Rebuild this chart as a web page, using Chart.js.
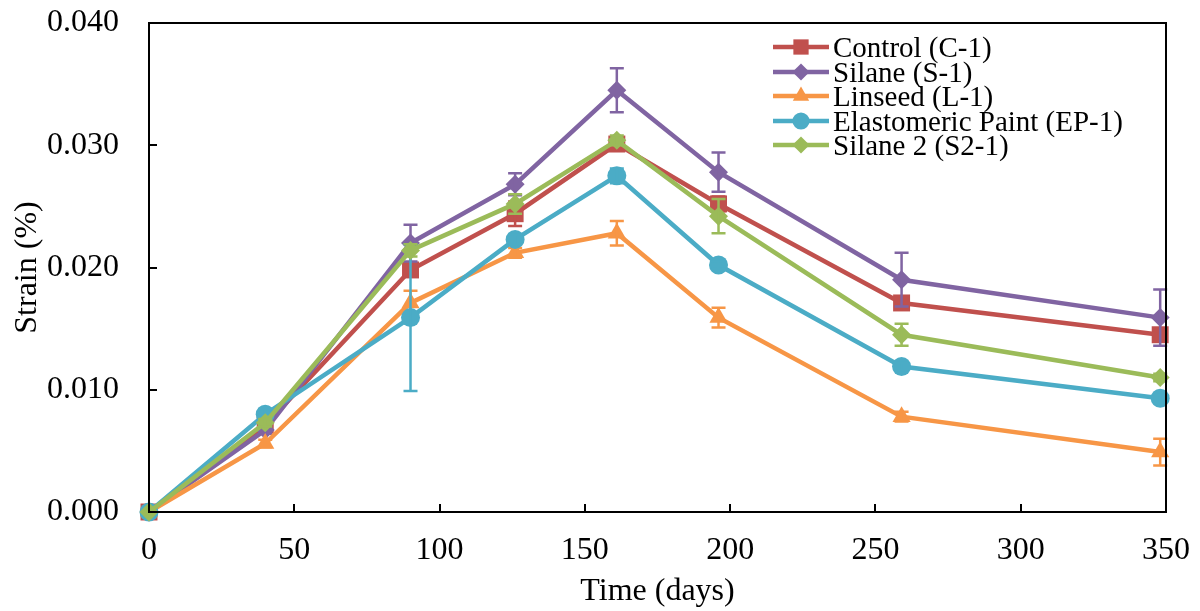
<!DOCTYPE html>
<html>
<head>
<meta charset="utf-8">
<script src="https://cdn.jsdelivr.net/npm/chart.js@4.4.1/dist/chart.umd.min.js"></script>
<style>
  html, body { margin: 0; padding: 0; background: #fff; }
  #wrap { position: relative; width: 1200px; height: 611px; }
  .row {
    position: absolute; left: 773px; height: 30px; line-height: 30px; white-space: nowrap;
    font-family: "Liberation Serif", "Times New Roman", serif; font-size: 29px; color: #000;
  }
  .row canvas { position: absolute; left: 0; top: 3px; }
  .row span { position: absolute; left: 60px; top: 0; }
</style>
</head>
<body>
<div id="wrap">
  <canvas id="chart" width="1200" height="611"></canvas>
</div>
<script>
// ── data ──
const days = [0, 40, 90, 126, 161, 196, 259, 348];
const xTicks = [0, 50, 100, 150, 200, 250, 300, 350];
const yTicks = [0, 0.01, 0.02, 0.03, 0.04];

const names = ['Control (C-1)', 'Silane (S-1)', 'Linseed (L-1)', 'Elastomeric Paint (EP-1)', 'Silane 2 (S2-1)'];

const control    = [0, 0.0071, 0.0198, 0.0244, 0.0301, 0.0252, 0.0171, 0.0145];
const controlErr = [0, 0.0003, 0.0005, 0.0010, 0.0004, 0.0006, 0.0003, 0.0005];

const silane    = [0, 0.0067, 0.0220, 0.0268, 0.0345, 0.0278, 0.0190, 0.0159];
const silaneErr = [0, 0.0003, 0.0015, 0.0009, 0.0018, 0.0016, 0.0022, 0.0023];

const linseed    = [0, 0.0056, 0.0171, 0.0212, 0.0228, 0.0159, 0.0078, 0.0049];
const linseedErr = [0, 0.0003, 0.0010, 0.0004, 0.0010, 0.0008, 0.0004, 0.0011];

const paint    = [0, 0.0080, 0.0159, 0.0223, 0.0275, 0.0202, 0.0119, 0.0093];
const paintErr = [0, 0.0004, 0.0060, 0.0004, 0.0006, 0.0003, 0.0003, 0.0003];

const silane2    = [0, 0.0073, 0.0214, 0.0252, 0.0304, 0.0242, 0.0145, 0.0110];
const silane2Err = [0, 0.0003, 0.0005, 0.0008, 0.0004, 0.0014, 0.0009, 0.0003];

const colors = ['#C0504D', '#8064A2', '#F79646', '#4BACC6', '#9BBB59'];
const styles = ['rect', 'rectRot', 'triangle', 'circle', 'rectRot'];
const radii  = [12, 9.5, 10.5, 9.5, 9.5];

const values = [control, silane, linseed, paint, silane2];
const errors = [controlErr, silaneErr, linseedErr, paintErr, silane2Err];

const FONT = 'Liberation Serif';
const FS = 32;

// ── plugins ──
const frameAndTicks = {
  id: 'frameAndTicks',
  afterDraw(chart) {
    const { ctx, chartArea: a, scales } = chart;
    ctx.save();
    ctx.strokeStyle = '#000';
    ctx.lineWidth = 2;
    ctx.strokeRect(a.left, a.top, a.right - a.left, a.bottom - a.top);
    ctx.beginPath();
    scales.x.ticks.forEach(t => {
      const px = Math.round(scales.x.getPixelForValue(t.value));
      ctx.moveTo(px, a.bottom);
      ctx.lineTo(px, a.bottom - 8);
    });
    scales.y.ticks.forEach(t => {
      const py = Math.round(scales.y.getPixelForValue(t.value));
      ctx.moveTo(a.left, py);
      ctx.lineTo(a.left + 8, py);
    });
    ctx.stroke();
    ctx.restore();
  }
};

// error bars drawn with each series, so later series sit on top (like Excel)
const errorBars = {
  id: 'errorBars',
  afterDatasetDraw(chart, args) {
    const i = args.index;
    const { ctx, scales: { x, y } } = chart;
    ctx.save();
    ctx.lineWidth = 2.5;
    ctx.strokeStyle = colors[i];
    values[i].forEach((v, j) => {
      const e = errors[i][j];
      if (!e) return;
      const px = x.getPixelForValue(days[j]);
      const top = y.getPixelForValue(v + e);
      const bot = y.getPixelForValue(v - e);
      ctx.beginPath();
      ctx.moveTo(px, top); ctx.lineTo(px, bot);
      ctx.moveTo(px - 7, top); ctx.lineTo(px + 7, top);
      ctx.moveTo(px - 7, bot); ctx.lineTo(px + 7, bot);
      ctx.stroke();
    });
    ctx.restore();
  }
};

// ── chart ──
new Chart(document.getElementById('chart'), {
  type: 'line',
  data: {
    datasets: values.map((vals, i) => ({
      label: names[i],
      data: vals.map((v, j) => ({ x: days[j], y: v })),
      borderColor: colors[i],
      backgroundColor: colors[i],
      borderWidth: 4.5,
      pointStyle: styles[i],
      pointRadius: radii[i],
      pointBorderWidth: 0,
      pointBackgroundColor: colors[i],
      tension: 0,
      clip: false,
      order: values.length - i,
    })),
  },
  options: {
    responsive: false,
    animation: false,
    events: [],
    layout: { padding: 0 },
    plugins: {
      legend: { display: false },
      tooltip: { enabled: false },
    },
    scales: {
      x: {
        type: 'linear',
        min: 0, max: 350,
        afterBuildTicks: s => { s.ticks = xTicks.map(v => ({ value: v })); },
        afterFit: s => { s.height = 99; s.paddingLeft = 0; s.paddingRight = 34; },
        grid: { display: false, drawTicks: false },
        border: { display: false },
        ticks: { color: '#000', font: { family: FONT, size: FS }, padding: 19, maxRotation: 0 },
        title: { display: true, text: 'Time (days)', color: '#000', font: { family: FONT, size: FS }, padding: { top: 0, bottom: 0 } },
      },
      y: {
        min: 0, max: 0.04,
        afterBuildTicks: s => { s.ticks = yTicks.map(v => ({ value: v })); },
        afterFit: s => { s.width = 149; s.paddingTop = 23; s.paddingBottom = 0; },
        grid: { display: false, drawTicks: false },
        border: { display: false },
        ticks: { color: '#000', font: { family: FONT, size: FS }, padding: 30, callback: v => v.toFixed(3) },
        title: { display: true, text: 'Strain (%)', color: '#000', font: { family: FONT, size: FS }, padding: { top: 8, bottom: 0 } },
      },
    },
  },
  plugins: [errorBars, frameAndTicks],
});

// ── legend (line + marker, like the original) ──
function drawMarker(ctx, style, r, cx, cy) {
  ctx.beginPath();
  if (style === 'rect') {
    const s = r * Math.SQRT1_2;
    ctx.rect(cx - s, cy - s, 2 * s, 2 * s);
  } else if (style === 'rectRot') {
    ctx.moveTo(cx, cy - r); ctx.lineTo(cx + r, cy); ctx.lineTo(cx, cy + r); ctx.lineTo(cx - r, cy);
    ctx.closePath();
  } else if (style === 'triangle') {
    const h = r * 1.5, w = r * Math.sqrt(3);
    ctx.moveTo(cx, cy - r); ctx.lineTo(cx + w / 2, cy - r + h); ctx.lineTo(cx - w / 2, cy - r + h);
    ctx.closePath();
  } else {
    ctx.arc(cx, cy, r, 0, Math.PI * 2);
  }
  ctx.fill();
}

const wrap = document.getElementById('wrap');
names.forEach((name, i) => {
  const row = document.createElement('div');
  row.className = 'row';
  row.style.top = (47 + i * 24.5 - 15) + 'px';
  const cv = document.createElement('canvas');
  cv.width = 56; cv.height = 24;
  const g = cv.getContext('2d');
  g.strokeStyle = colors[i];
  g.fillStyle = colors[i];
  g.lineWidth = 4.5;
  g.beginPath(); g.moveTo(0, 12); g.lineTo(56, 12); g.stroke();
  drawMarker(g, styles[i], radii[i] * 0.9, 28, 12);
  const sp = document.createElement('span');
  sp.textContent = name;
  row.appendChild(cv);
  row.appendChild(sp);
  wrap.appendChild(row);
});
</script>
</body>
</html>
